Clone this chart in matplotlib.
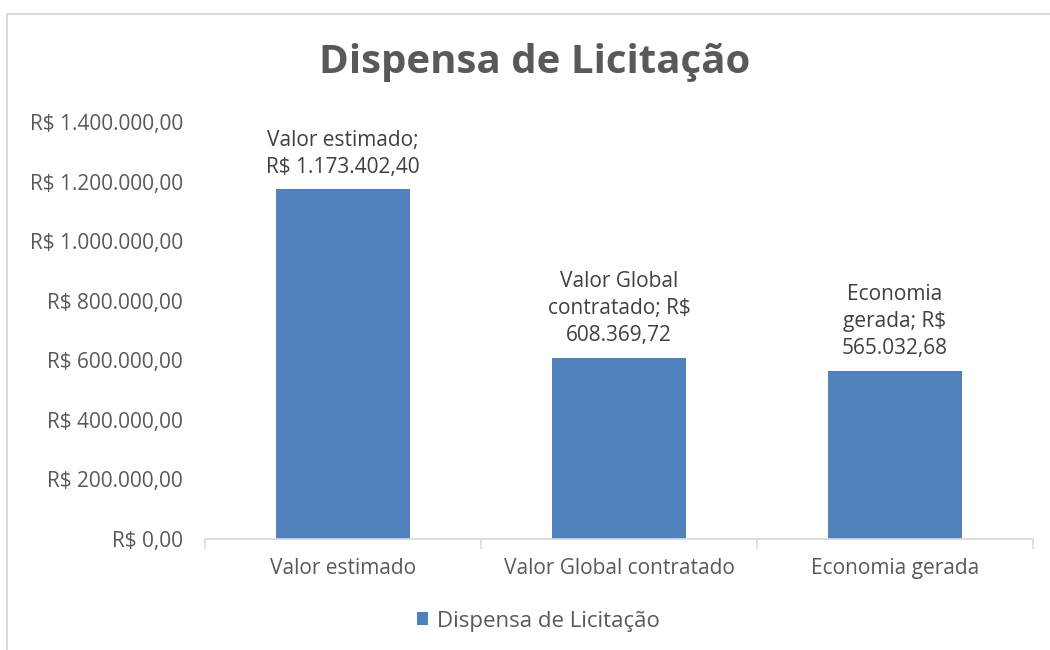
import numpy as np
import matplotlib.pyplot as plt
from matplotlib.patches import Rectangle

# data
categorias = ['Valor estimado', 'Valor Global contratado', 'Economia gerada']
valores = [1173402.40, 608369.72, 565032.68]
rotulos = ['Valor estimado;\nR$ 1.173.402,40',
           'Valor Global\ncontratado; R$\n608.369,72',
           'Economia\ngerada; R$\n565.032,68']
yticks = [0, 200000, 400000, 600000, 800000, 1000000, 1200000, 1400000]
ytick_labels = ['R$ 0,00', 'R$ 200.000,00', 'R$ 400.000,00', 'R$ 600.000,00',
                'R$ 800.000,00', 'R$ 1.000.000,00', 'R$ 1.200.000,00',
                'R$ 1.400.000,00']

cinza = '#595959'
azul = '#4F81BD'
plt.rcParams['font.family'] = ['Open Sans', 'DejaVu Sans']

fig = plt.figure(figsize=(10.5, 6.5), dpi=100)
ax = fig.add_axes([205/1050, 1 - 539/650, 828/1050, 417/650])

# chart border
fig.patches.append(Rectangle((7/1050, -0.05), 1.1, 1 - 14/650 + 0.05,
                             transform=fig.transFigure, fill=False,
                             edgecolor='#D9D9D9', linewidth=1.5))

x = np.arange(len(categorias))
bars = ax.bar(x, valores, width=0.485, color=azul, label='Dispensa de Licitação')

for i, b in enumerate(bars):
    ax.text(b.get_x() + b.get_width()/2, valores[i] + 38000, rotulos[i],
            ha='center', va='bottom', fontsize=15, color='#404040',
            linespacing=1.4)

ax.set_xlim(-0.5, 2.5)
ax.set_ylim(0, 1400000)
ax.set_yticks(yticks)
ax.set_yticklabels(ytick_labels, fontsize=15, color=cinza)
ax.set_xticks(x)
ax.set_xticklabels(categorias, fontsize=15, color=cinza)
ax.tick_params(axis='y', length=0, pad=16)
ax.tick_params(axis='x', length=0, pad=14)
# boundary tick marks on category axis
ax.set_xticks([-0.5, 0.5, 1.5, 2.5], minor=True)
ax.tick_params(axis='x', which='minor', length=7, color='#D9D9D9', width=1.2)

for s in ['top', 'right', 'left']:
    ax.spines[s].set_visible(False)
ax.spines['bottom'].set_color('#D9D9D9')
ax.spines['bottom'].set_linewidth(1.2)

fig.text(535/1050, 1 - 63/650, 'Dispensa de Licitação', ha='center', va='center',
         fontsize=29, fontweight='bold', color=cinza)

fig.legend(handles=[bars], labels=['Dispensa de Licitação'], loc='center',
           bbox_to_anchor=(538/1050, 1 - 621/650), frameon=False, fontsize=16,
           labelcolor=cinza, handlelength=0.5, handleheight=0.5,
           handletextpad=0.4)

fig.savefig('out.png', dpi=100)
